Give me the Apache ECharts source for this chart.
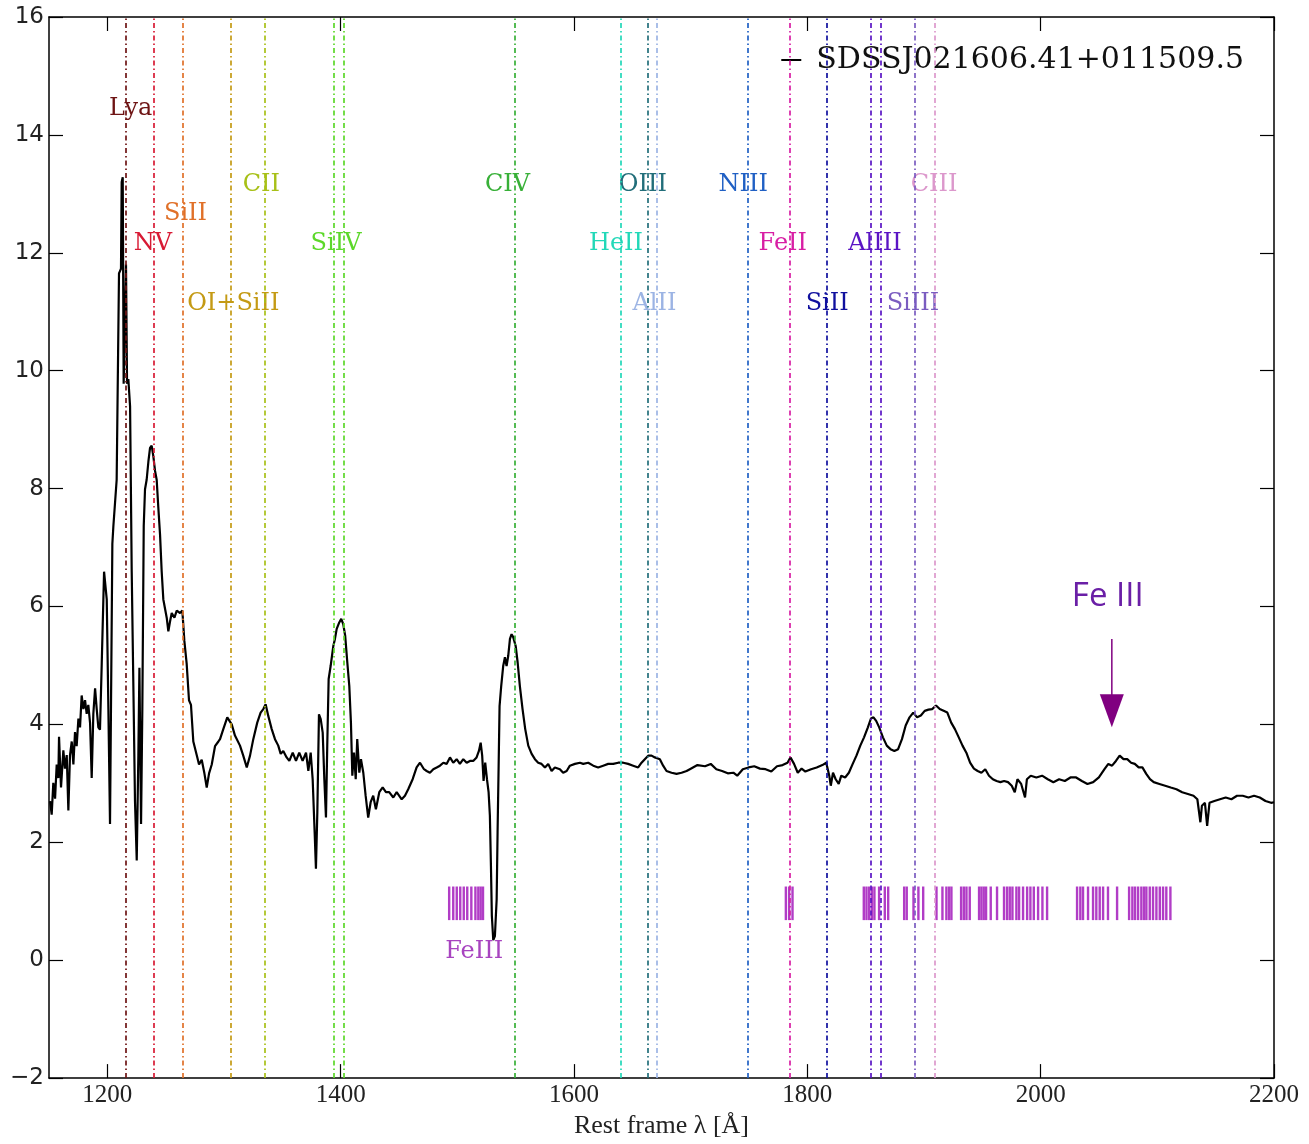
<!DOCTYPE html>
<html>
<head>
<meta charset="utf-8">
<script src="https://cdn.jsdelivr.net/npm/echarts@6/dist/echarts.min.js"></script>
<style>
  html, body { margin: 0; padding: 0; background: #ffffff; }
  #chart { width: 1309px; height: 1144px; }
</style>
</head>
<body>
<div id="chart"></div>
<script>
// Rest-frame spectrum of SDSSJ021606.41+011509.5, [wavelength (Å), flux] pairs
const specLyaNV = [
  [1150.9,2.70],[1152.3,2.47],[1153.7,3.01],[1155.2,2.74],[1156.6,3.32],[1158.0,3.09],[1158.6,3.79],[1160.3,2.93],
  [1162.3,3.56],[1163.7,3.25],[1165.2,3.48],[1166.6,2.54],[1168.0,3.48],[1169.5,3.71],[1170.9,3.32],[1172.3,3.87],
  [1173.7,3.63],[1175.2,4.10],[1176.6,3.95],[1178.0,4.49],[1179.5,4.26],[1180.9,4.41],[1182.3,4.18],[1183.7,4.33],
  [1185.2,4.02],[1186.6,3.09],[1188.0,4.18],[1189.5,4.61],[1190.9,4.26],[1192.3,3.95],[1193.7,3.91],[1195.2,5.03],
  [1197.2,6.59],[1199.5,6.12],[1200.9,4.26],[1202.3,2.31],[1204.3,7.06],[1205.2,7.37],[1206.6,7.37],[1208.0,8.15],
  [1210.0,11.65],[1211.7,11.73],[1212.3,13.20],[1213.2,13.28],[1214.0,9.78],[1215.2,9.78],[1216.0,11.80],[1216.9,9.78],
  [1218.0,9.86],[1219.5,9.39],[1220.9,6.59],[1222.6,4.26],[1223.7,2.70],[1225.2,1.69],[1226.6,3.48],[1227.5,4.96],
  [1228.9,2.31],[1230.0,4.26],[1231.2,7.37],[1232.3,7.99],[1233.7,8.15],[1235.2,8.46],[1236.6,8.69],[1238.0,8.73],
  [1239.5,8.54],[1240.9,8.30],[1242.3,8.15],[1243.7,7.68],[1245.2,7.21],[1246.6,6.59],[1248.0,6.12],[1250.9,5.81],
  [1252.3,5.58],[1253.7,5.74],[1255.2,5.89],[1257.5,5.81],[1259.5,5.93],[1262.3,5.89],[1264.3,5.93],[1266.0,5.42],
  [1268.0,5.03],[1270.0,4.41],[1271.7,4.33],[1273.7,3.71],[1276.6,3.48],[1278.6,3.32],[1280.9,3.40],[1283.2,3.17],
  [1285.2,2.93],[1287.2,3.17],[1289.5,3.32],[1292.3,3.63],[1295.2,3.71]
];
const specCIISiIV = [
  [1296.6,3.75],[1299.4,3.92],[1302.8,4.12],[1306.6,4.00],[1309.4,3.81],[1313.7,3.64],[1316.5,3.47],[1319.5,3.27],
  [1322.3,3.47],[1325.1,3.75],[1328.5,4.03],[1331.4,4.20],[1333.7,4.26],[1335.7,4.34],[1338.0,4.14],[1340.9,3.92],
  [1343.7,3.75],[1346.5,3.64],[1348.6,3.50],[1350.8,3.55],[1353.7,3.44],[1356.0,3.38],[1358.9,3.52],[1361.7,3.38],
  [1364.5,3.52],[1367.4,3.38],[1370.3,3.52],[1372.3,3.21],[1374.3,3.52],[1376.0,3.07],[1377.7,2.17],[1378.8,1.55],
  [1380.0,2.51],[1381.4,4.17],[1382.9,4.09],[1384.6,3.86],[1386.0,3.07],[1387.4,2.42],[1388.5,3.64],[1389.7,4.77],
  [1391.4,4.99],[1393.7,5.33],[1395.1,5.45],[1396.6,5.62],[1398.8,5.73],[1400.5,5.79],[1402.2,5.70],[1403.9,5.50],
  [1405.7,5.05],[1407.4,4.65],[1408.8,4.03],[1410.0,3.13],[1411.4,3.52],[1412.9,3.07],[1414.2,3.75],[1416.0,3.18],
  [1417.4,3.41],[1419.4,3.18],[1421.4,2.79],[1423.6,2.42],[1425.7,2.68],[1427.9,2.79],[1430.2,2.56],[1433.1,2.85],
  [1436.0,2.93],[1438.8,2.85],[1441.6,2.85],[1445.1,2.76],[1448.0,2.85],[1452.3,2.73],[1455.1,2.79],[1457.9,2.90],
  [1461.7,3.07],[1465.1,3.27],[1468.0,3.35],[1471.4,3.24],[1473.7,3.21]
];
const specCIV = [
  [1476.5,3.18],[1479.4,3.24],[1482.3,3.27],[1485.1,3.30],[1488.0,3.35],[1490.8,3.33],[1493.7,3.44],[1496.5,3.35],
  [1499.4,3.41],[1502.2,3.33],[1505.1,3.41],[1508.0,3.35],[1510.8,3.38],[1513.6,3.38],[1516.5,3.44],[1518.5,3.55],
  [1520.0,3.69],[1521.3,3.47],[1522.5,3.04],[1523.9,3.35],[1525.4,3.07],[1526.8,2.85],[1527.9,2.45],[1528.8,1.60],
  [1529.6,0.75],[1530.8,0.34],[1532.2,0.41],[1533.7,1.03],[1534.5,2.17],[1535.4,3.30],[1536.2,4.31],[1537.6,4.65],
  [1539.3,4.99],[1540.8,5.14],[1542.2,4.99],[1543.6,5.16],[1545.1,5.45],[1546.5,5.53],[1547.9,5.48],[1550.0,5.33],
  [1551.7,5.05],[1553.6,4.65],[1555.9,4.26],[1558.2,3.92],[1560.8,3.64],[1563.7,3.50],[1566.5,3.41],[1569.3,3.35],
  [1572.2,3.33],[1575.1,3.27],[1577.9,3.33],[1580.8,3.21],[1583.6,3.27],[1587.9,3.24],[1590.7,3.18],[1593.7,3.21],
  [1596.5,3.30],[1600.8,3.33],[1605.1,3.35],[1607.9,3.33],[1612.2,3.35],[1616.5,3.30],[1620.7,3.27],[1625.0,3.30],
  [1629.3,3.33],[1633.6,3.33],[1637.9,3.35],[1642.2,3.35],[1646.4,3.33],[1650.7,3.30],[1655.0,3.27],[1657.9,3.35],
  [1660.7,3.41],[1663.6,3.47],[1666.5,3.47],[1669.3,3.44],[1673.6,3.41],[1676.4,3.30],[1679.3,3.21],[1683.6,3.18],
  [1687.9,3.16],[1692.2,3.18],[1696.5,3.21]
];
const specCIIIFe = [
  [1699.3,3.24],[1705.8,3.31],[1712.3,3.29],[1717.2,3.33],[1722.0,3.24],[1726.9,3.21],[1731.8,3.17],[1736.6,3.18],
  [1739.9,3.13],[1744.7,3.24],[1749.6,3.27],[1754.5,3.29],[1759.4,3.25],[1764.2,3.24],[1769.1,3.20],[1774.0,3.29],
  [1778.8,3.31],[1783.0,3.35],[1785.6,3.44],[1788.6,3.33],[1791.8,3.18],[1795.1,3.25],[1798.3,3.20],[1803.2,3.24],
  [1808.0,3.27],[1812.9,3.31],[1816.2,3.35],[1818.8,3.13],[1820.1,2.96],[1822.0,3.18],[1824.3,3.07],[1826.9,2.99],
  [1829.1,3.13],[1832.4,3.10],[1835.6,3.18],[1838.9,3.33],[1842.1,3.47],[1845.4,3.64],[1848.6,3.78],[1851.9,3.95],
  [1854.5,4.10],[1856.7,4.12],[1859.0,4.06],[1861.6,3.95],[1864.8,3.78],[1868.1,3.64],[1871.3,3.58],[1874.6,3.55],
  [1877.8,3.58],[1881.1,3.75],[1884.3,3.98],[1887.6,4.12],[1890.8,4.20],[1894.1,4.12],[1897.3,4.15],[1900.6,4.23],
  [1903.8,4.25],[1907.0,4.26],[1910.3,4.32],[1913.5,4.26],[1916.8,4.23],[1920.0,4.20],[1923.3,4.03],[1926.5,3.92],
  [1929.8,3.78],[1933.0,3.64],[1936.3,3.52],[1939.5,3.35],[1942.8,3.25],[1946.0,3.21],[1949.2,3.18],[1952.5,3.24],
  [1955.7,3.13],[1959.0,3.07],[1962.2,3.04],[1965.5,3.02],[1968.7,3.04],[1972.0,3.02],[1975.2,2.96],[1977.8,2.85],
  [1980.1,3.07],[1983.3,2.99],[1986.6,2.76],[1988.2,3.07],[1991.5,3.13],[1996.3,3.10],[2001.2,3.13],[2006.1,3.07],
  [2010.9,3.02],[2015.8,3.07],[2020.7,3.04],[2025.5,3.10],[2030.4,3.10],[2035.3,3.04],[2040.1,2.99],[2045.0,3.02],
  [2049.9,3.10],[2054.7,3.24],[2058.0,3.33],[2061.2,3.30],[2064.5,3.38],[2067.7,3.47],[2071.0,3.41],[2074.2,3.41],
  [2077.5,3.35],[2080.7,3.33],[2084.0,3.27],[2087.2,3.27],[2090.5,3.16],[2093.7,3.07],[2096.9,3.02],[2101.8,2.99],
  [2106.7,2.96],[2111.5,2.93],[2116.4,2.90],[2121.3,2.85],[2126.2,2.82],[2131.0,2.79],[2134.3,2.73],[2136.9,2.34],
  [2138.2,2.62],[2140.8,2.67],[2142.7,2.28],[2144.7,2.67],[2148.9,2.70],[2153.7,2.73],[2158.6,2.76],[2163.5,2.73],
  [2168.3,2.79],[2173.2,2.79],[2178.1,2.76],[2182.9,2.79],[2187.8,2.76],[2192.7,2.70],[2197.5,2.67],[2200.0,2.68]
];

// Emission line identifications
const lineNames   = ['Lya', 'NV', 'SiII', 'OI+SiII', 'CII', 'SiIV', '', 'CIV', 'HeII', 'OIII', 'AlII', 'NIII', 'FeII', 'SiII', 'AlIII', '', 'SiIII', 'CIII'];
const lineWaves   = [1215.67, 1240.1, 1265.0, 1305.7, 1335.3, 1393.8, 1402.8, 1549.0, 1640.4, 1663.5, 1670.8, 1749.0, 1785.0, 1816.9, 1854.7, 1862.8, 1892.0, 1909.0];
const labelWaves  = [1220, 1239, 1267, 1308, 1332, 1396, null, 1543, 1636, 1659, 1669, 1745, 1779, 1817, 1858, null, 1890.5, 1908.6];
const labelLevels = [14.45, 12.15, 12.66, 11.13, 13.15, 12.15, null, 13.15, 12.15, 13.15, 11.13, 13.15, 12.15, 11.13, 12.15, null, 11.13, 13.15];
const lineColors  = ['#6e1414', '#d81a34', '#e07028', '#c49a14', '#a8c018', '#5cd82a', '#5cd82a', '#38b038', '#22d8b8',
                     '#226e7a', '#9cb4e4', '#2060c4', '#d81ea4', '#10109e', '#5a14c4', '#5a14c4', '#7a5cc0', '#dc98cc'];

// Fe III template line positions (Å) and the flux band they occupy
const feIIIWaves = [
  1493.0, 1496.5, 1499.5, 1502.5, 1505.5, 1508.5, 1512.0, 1515.5, 1518.0, 1520.0, 1522.0,
  1781.6, 1784.4, 1787.3,
  1848.4, 1850.7, 1853.0, 1855.3, 1857.5, 1861.5, 1866.4, 1869.3,
  1883.0, 1885.2, 1891.0, 1895.2, 1899.3,
  1910.7, 1915.8, 1919.2, 1921.5, 1923.5,
  1931.8, 1934.1, 1936.4, 1939.2,
  1947.2, 1949.2, 1951.2, 1953.2,
  1957.2, 1962.6, 1968.6, 1971.2, 1973.5, 1975.8, 1979.2, 1981.5, 1984.9, 1988.4, 1991.2, 1994.1, 1997.8, 2001.5, 2005.5,
  2031.2, 2034.0, 2036.3, 2040.6, 2044.9, 2047.7, 2050.6, 2053.5, 2057.7, 2065.5,
  2075.8, 2078.6, 2080.9, 2083.5, 2086.3, 2088.6, 2090.6, 2093.5, 2096.3, 2099.2, 2102.1, 2104.9, 2107.7, 2111.2
];
const feIIIBand = [0.68, 1.25];
const feIIILabel = { text: 'FeIII', wave: 1514.5, level: 0.14 };

// Fe III bump annotation (arrow from flux 5.45 down to 3.95)
const feBump = { text: 'Fe III', wave: 2057.5, level: 6.16, arrowWave: 2061, arrowFrom: 5.45, arrowTo: 3.95 };

const xTicks = [1200, 1400, 1600, 1800, 2000, 2200];
const objectName = 'SDSSJ021606.41+011509.5';

const spectrum = specLyaNV.concat(specCIISiIV, specCIV, specCIIIFe);

const chart = echarts.init(document.getElementById('chart'), null, { renderer: 'canvas' });

const axisLineStyle = { color: '#000', width: 1.5 };
const tickStyle = { color: '#000', width: 1.2 };

const labelData = [];
lineNames.forEach((name, i) => {
  if (!name) return;
  labelData.push({
    name: name,
    value: [labelWaves[i], labelLevels[i]],
    label: { color: lineColors[i] }
  });
});

const option = {
  animation: false,
  backgroundColor: '#ffffff',
  grid: { left: 49, right: 35, top: 17, bottom: 65, containLabel: false },
  legend: {
    data: [objectName],
    right: 60,
    top: 40,
    icon: 'rect',
    itemWidth: 20,
    itemHeight: 2,
    textStyle: { fontFamily: 'DejaVu Serif', fontSize: 30, color: '#111', padding: [0, 0, 0, 10] },
    selectedMode: false
  },
  xAxis: [
    {
      type: 'value', min: 1150, max: 2200, position: 'bottom',
      axisLine: { show: true, onZero: false, lineStyle: axisLineStyle },
      axisTick: { show: true, inside: true, length: 14, lineStyle: tickStyle, customValues: xTicks },
      axisLabel: { customValues: xTicks, formatter: v => String(v), fontFamily: 'Liberation Serif', fontSize: 25, color: '#222', margin: 5 },
      splitLine: { show: false },
      name: 'Rest frame λ [Å]', nameLocation: 'middle', nameGap: 34,
      nameTextStyle: { fontFamily: 'Liberation Serif', fontSize: 26, color: '#222' }
    },
    {
      type: 'value', min: 1150, max: 2200, position: 'top',
      axisLine: { show: true, onZero: false, lineStyle: axisLineStyle },
      axisTick: { show: true, inside: true, length: 14, lineStyle: tickStyle, customValues: xTicks },
      axisLabel: { show: false },
      splitLine: { show: false }
    }
  ],
  yAxis: [
    {
      type: 'value', min: -2, max: 16, interval: 2, position: 'left',
      axisLine: { show: true, onZero: false, lineStyle: axisLineStyle },
      axisTick: { show: true, inside: true, length: 14, lineStyle: tickStyle },
      axisLabel: {
        formatter: v => (v < 0 ? '\u2212' + Math.abs(v) : String(v)),
        fontFamily: 'DejaVu Sans', fontSize: 23, color: '#222', margin: 5
      },
      splitLine: { show: false }
    },
    {
      type: 'value', min: -2, max: 16, interval: 2, position: 'right',
      axisLine: { show: true, onZero: false, lineStyle: axisLineStyle },
      axisTick: { show: true, inside: true, length: 14, lineStyle: tickStyle },
      axisLabel: { show: false },
      splitLine: { show: false }
    }
  ],
  series: [
    {
      // vertical markers at the emission line wavelengths
      name: 'lines',
      type: 'line',
      data: [],
      silent: true,
      z: 1,
      markLine: {
        silent: true,
        symbol: ['none', 'none'],
        label: { show: false },
        emphasis: { disabled: true },
        data: lineWaves.map((w, i) => ({
          xAxis: w,
          lineStyle: { color: lineColors[i], width: 1.7, type: [5, 3, 1.5, 3], opacity: 1 }
        }))
      }
    },
    {
      name: 'FeIII template',
      type: 'custom',
      z: 2,
      silent: true,
      data: feIIIWaves.map(w => [w, feIIIBand[0], feIIIBand[1]]),
      renderItem: (params, api) => {
        const lo = api.coord([api.value(0), api.value(1)]);
        const hi = api.coord([api.value(0), api.value(2)]);
        return {
          type: 'line',
          shape: { x1: lo[0], y1: lo[1], x2: hi[0], y2: hi[1] },
          style: { stroke: '#b13dc6', lineWidth: 2.4 }
        };
      }
    },
    {
      name: objectName,
      type: 'line',
      data: spectrum,
      showSymbol: false,
      symbol: 'none',
      z: 3,
      color: '#000000',
      lineStyle: { color: '#000000', width: 2.2 }
    },
    {
      name: 'line labels',
      type: 'scatter',
      z: 4,
      silent: true,
      symbolSize: 0,
      itemStyle: { opacity: 1 },
      data: labelData,
      label: {
        show: true,
        position: 'inside',
        opacity: 1,
        formatter: p => p.name,
        fontFamily: 'DejaVu Serif',
        fontSize: 24
      }
    },
    {
      name: 'FeIII label',
      type: 'scatter',
      z: 4,
      silent: true,
      symbolSize: 0,
      itemStyle: { opacity: 1 },
      data: [{ name: feIIILabel.text, value: [feIIILabel.wave, feIIILabel.level] }],
      label: {
        show: true, position: 'inside', opacity: 1, formatter: p => p.name,
        fontFamily: 'DejaVu Serif', fontSize: 24, color: '#a844c0'
      }
    },
    {
      name: 'Fe III bump',
      type: 'scatter',
      z: 5,
      silent: true,
      symbolSize: 0,
      itemStyle: { opacity: 1 },
      data: [{ name: feBump.text, value: [feBump.wave, feBump.level] }],
      label: {
        show: true, position: 'inside', opacity: 1, formatter: p => p.name,
        fontFamily: 'Open Sans', fontSize: 33, color: '#6a1fa6'
      }
    },
    {
      name: 'Fe III arrow',
      type: 'custom',
      z: 5,
      silent: true,
      data: [[feBump.arrowWave, feBump.arrowFrom, feBump.arrowTo]],
      renderItem: (params, api) => {
        const tail = api.coord([api.value(0), api.value(1)]);
        const tip = api.coord([api.value(0), api.value(2)]);
        const headLen = 33, half = 12;
        return {
          type: 'group',
          children: [
            { type: 'line', shape: { x1: tail[0], y1: tail[1], x2: tip[0], y2: tip[1] - headLen + 2 },
              style: { stroke: '#800080', lineWidth: 1.5 } },
            { type: 'polygon', shape: { points: [[tip[0] - half, tip[1] - headLen], [tip[0] + half, tip[1] - headLen], [tip[0], tip[1]]] },
              style: { fill: '#800080' } }
          ]
        };
      }
    }
  ]
};

chart.setOption(option);
</script>
</body>
</html>
